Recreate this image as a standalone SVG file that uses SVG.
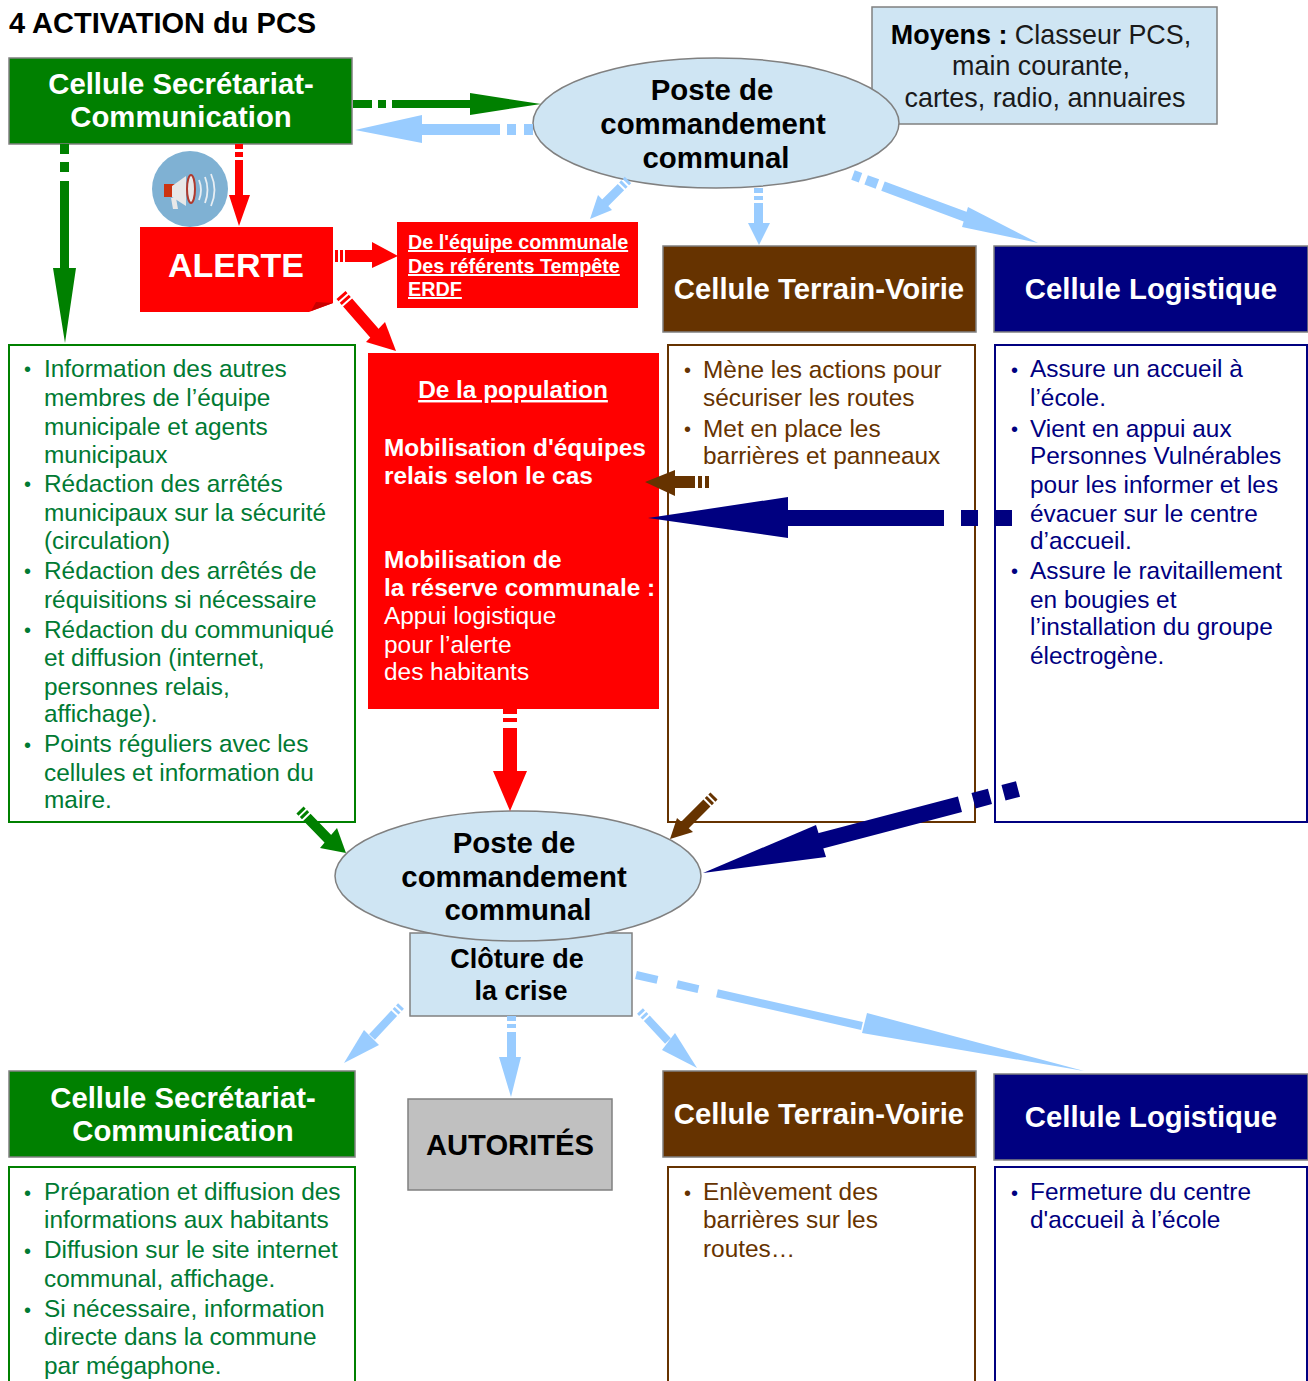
<svg xmlns="http://www.w3.org/2000/svg" width="1308" height="1381" viewBox="0 0 1308 1381">
<style>
text{font-family:"Liberation Sans",Arial,sans-serif}
.b{font-weight:bold}
.m{text-anchor:middle}
.hd{font-size:29.3px;font-weight:bold;fill:#fff;text-anchor:middle}
.pc{font-size:29.4px;font-weight:bold;fill:#000;text-anchor:middle}
.rw{font-size:24.4px;font-weight:bold;fill:#fff}
.rn{font-size:24.4px;fill:#fff}
.u{font-size:19.8px;font-weight:bold;fill:#fff;text-decoration:underline}
.g{font-size:24.4px;fill:#007a33}
.br{font-size:24.4px;fill:#663300}
.n{font-size:24.4px;fill:#000080}
.d{font-size:20px}
.lb{fill:#99ccff}.lbs{stroke:#99ccff;fill:none}
.gr{fill:#008000}.grs{stroke:#008000;fill:none}
.rd{fill:#ff0000}.rds{stroke:#ff0000;fill:none}
.bw{fill:#663300}.bws{stroke:#663300;fill:none}
.nv{fill:#000080}.nvs{stroke:#000080;fill:none}
.box{stroke:#808080;stroke-width:1.5}
</style>
<text x="9" y="33" font-size="29" class="b" fill="#000">4 ACTIVATION du PCS</text>

<g id="moyens">
<rect x="872" y="7" width="345" height="117" fill="#cfe5f3" class="box"/>
<text x="1041" y="44" font-size="26.9" class="m" fill="#1a1a1a"><tspan class="b" fill="#000">Moyens :</tspan> Classeur PCS,</text>
<text x="1041" y="75" font-size="26.9" class="m" fill="#1a1a1a">main courante,</text>
<text x="1045" y="107" font-size="26.9" class="m" fill="#1a1a1a">cartes, radio, annuaires</text>
</g>
<g id="pcc1">
<ellipse cx="716" cy="123" rx="183" ry="65" fill="#cfe5f3" class="box"/>
<text x="712" y="100" class="pc">Poste de</text>
<text x="713" y="134" class="pc">commandement</text>
<text x="716" y="168" class="pc">communal</text>
</g>
<g id="sec1">
<rect x="9" y="58" width="343" height="86" fill="#008000" class="box"/>
<text x="181" y="94" class="hd">Cellule Secrétariat-</text>
<text x="181" y="127" class="hd">Communication</text>
</g>
<g id="megaphone">
<ellipse cx="190" cy="189" rx="38" ry="38" fill="#7fb1d3"/>
<rect x="164" y="184" width="11" height="13" fill="#cc3311"/>
<path d="M172 186L186 176V206L172 197Z" fill="#e8e8e8"/>
<path d="M171 198L176 198L178 209L173 209Z" fill="#e8e8e8"/>
<ellipse cx="191" cy="189" rx="4" ry="14" fill="#e8e8e8" stroke="#b03a2e" stroke-width="2"/>
<path d="M199 180Q203 190 199 200M205 177Q210 190 205 203M211 174Q218 190 211 206" fill="none" stroke="#e8eef3" stroke-width="1.8"/>
</g>
<g id="alerte">
<path d="M140 227H333V303L309 312H140Z" fill="#ff0000"/>
<path d="M311 311L333 303L316 302Z" fill="#c80000"/>
<text x="236" y="277" font-size="34" class="b m" fill="#fff">ALERTE</text>
</g>
<g id="alerte-cibles">
<rect x="397" y="222" width="241" height="86" fill="#ff0000"/>
<text x="408" y="249" class="u">De l'équipe communale</text>
<text x="408" y="273" class="u">Des référents Tempête</text>
<text x="408" y="296" class="u">ERDF</text>
</g>
<g id="terrain1">
<rect x="663" y="246" width="313" height="86" fill="#663300" class="box"/>
<text x="819" y="299" class="hd">Cellule Terrain-Voirie</text>
</g>
<g id="logistique1">
<rect x="994" y="246" width="314" height="86" fill="#000080" class="box"/>
<text x="1151" y="299" class="hd">Cellule Logistique</text>
</g>
<g id="sec1-list">
<rect x="9" y="345" width="346" height="477" fill="#fff" stroke="#008000" stroke-width="2"/>
<g class="g">
<text x="24" y="376" class="d">•</text><text x="44" y="377">Information des autres</text>
<text x="44" y="406">membres de l’équipe</text>
<text x="44" y="435">municipale et agents</text>
<text x="44" y="463">municipaux</text>
<text x="24" y="491" class="d">•</text><text x="44" y="492">Rédaction des arrêtés</text>
<text x="44" y="521">municipaux sur la sécurité</text>
<text x="44" y="549">(circulation)</text>
<text x="24" y="578" class="d">•</text><text x="44" y="579">Rédaction des arrêtés de</text>
<text x="44" y="608">réquisitions si nécessaire</text>
<text x="24" y="637" class="d">•</text><text x="44" y="638">Rédaction du communiqué</text>
<text x="44" y="666">et diffusion (internet,</text>
<text x="44" y="695">personnes relais,</text>
<text x="44" y="722">affichage).</text>
<text x="24" y="752" class="d">•</text><text x="44" y="752">Points réguliers avec les</text>
<text x="44" y="781">cellules et information du</text>
<text x="44" y="808">maire.</text>
</g>
</g>
<g id="population">
<rect x="368" y="353" width="291" height="356" fill="#ff0000"/>
<text x="513" y="398" font-size="24.4" class="b m" fill="#fff" text-decoration="underline">De la population</text>
<text x="384" y="456" class="rw">Mobilisation d'équipes</text>
<text x="384" y="484" class="rw">relais selon le cas</text>
<text x="384" y="568" class="rw">Mobilisation de</text>
<text x="384" y="596" class="rw">la réserve communale :</text>
<text x="384" y="624" class="rn">Appui logistique</text>
<text x="384" y="653" class="rn">pour l’alerte</text>
<text x="384" y="680" class="rn">des habitants</text>
</g>
<g id="terrain1-list">
<rect x="668" y="345" width="307" height="477" fill="#fff" stroke="#663300" stroke-width="2"/>
<g class="br">
<text x="684" y="377" class="d">•</text><text x="703" y="378">Mène les actions pour</text>
<text x="703" y="406">sécuriser les routes</text>
<text x="684" y="436" class="d">•</text><text x="703" y="437">Met en place les</text>
<text x="703" y="464">barrières et panneaux</text>
</g>
</g>
<g id="logistique1-list">
<rect x="995" y="345" width="312" height="477" fill="#fff" stroke="#000080" stroke-width="2"/>
<g class="n">
<text x="1011" y="377" class="d">•</text><text x="1030" y="377">Assure un accueil à</text>
<text x="1030" y="406">l’école.</text>
<text x="1011" y="436" class="d">•</text><text x="1030" y="437">Vient en appui aux</text>
<text x="1030" y="464">Personnes Vulnérables</text>
<text x="1030" y="493">pour les informer et les</text>
<text x="1030" y="522">évacuer sur le centre</text>
<text x="1030" y="549">d’accueil.</text>
<text x="1011" y="578" class="d">•</text><text x="1030" y="579">Assure le ravitaillement</text>
<text x="1030" y="608">en bougies et</text>
<text x="1030" y="635">l’installation du groupe</text>
<text x="1030" y="664">électrogène.</text>
</g>
</g>
<g id="pcc2">
<rect x="410" y="933" width="222" height="83" fill="#cfe5f3" class="box"/>
<text x="517" y="968" font-size="27" class="b m" fill="#000">Clôture de</text>
<text x="521" y="1000" font-size="27" class="b m" fill="#000">la crise</text>
<ellipse cx="518" cy="876" rx="183" ry="65" fill="#cfe5f3" class="box"/>
<text x="514" y="853" class="pc">Poste de</text>
<text x="514" y="887" class="pc">commandement</text>
<text x="518" y="920" class="pc">communal</text>
</g>
<g id="sec2">
<rect x="9" y="1071" width="346" height="86" fill="#008000" class="box"/>
<text x="183" y="1108" class="hd">Cellule Secrétariat-</text>
<text x="183" y="1141" class="hd">Communication</text>
</g>
<g id="autorites">
<rect x="408" y="1099" width="204" height="91" fill="#c0c0c0" class="box"/>
<text x="510" y="1155" font-size="29.2" class="b m" fill="#000">AUTORITÉS</text>
</g>
<g id="terrain2">
<rect x="663" y="1071" width="313" height="86" fill="#663300" class="box"/>
<text x="819" y="1124" class="hd">Cellule Terrain-Voirie</text>
</g>
<g id="logistique2">
<rect x="994" y="1074" width="314" height="86" fill="#000080" class="box"/>
<text x="1151" y="1127" class="hd">Cellule Logistique</text>
</g>
<g id="sec2-list">
<rect x="9" y="1167" width="346" height="230" fill="#fff" stroke="#008000" stroke-width="2"/>
<g class="g">
<text x="24" y="1200" class="d">•</text><text x="44" y="1200">Préparation et diffusion des</text>
<text x="44" y="1228">informations aux habitants</text>
<text x="24" y="1258" class="d">•</text><text x="44" y="1258">Diffusion sur le site internet</text>
<text x="44" y="1287">communal, affichage.</text>
<text x="24" y="1317" class="d">•</text><text x="44" y="1317">Si nécessaire, information</text>
<text x="44" y="1345">directe dans la commune</text>
<text x="44" y="1374">par mégaphone.</text>
</g>
</g>
<g id="terrain2-list">
<rect x="668" y="1167" width="307" height="230" fill="#fff" stroke="#663300" stroke-width="2"/>
<g class="br">
<text x="684" y="1200" class="d">•</text><text x="703" y="1200">Enlèvement des</text>
<text x="703" y="1228">barrières sur les</text>
<text x="703" y="1257">routes…</text>
</g>
</g>
<g id="logistique2-list">
<rect x="995" y="1167" width="312" height="230" fill="#fff" stroke="#000080" stroke-width="2"/>
<g class="n">
<text x="1011" y="1200" class="d">•</text><text x="1030" y="1200">Fermeture du centre</text>
<text x="1030" y="1228">d'accueil à l’école</text>
</g>
</g>

<g id="connectors">
<path class="gr" d="M353 100H372V108H353ZM378 100H386V108H378ZM392 100H470V93L541 104L470 115V108H392Z"/>
<path class="lb" d="M533 124H524V135H533ZM516 124H507V135H516ZM500 124H422V115L355 130L422 143V135H500Z"/>
<path class="gr" d="M60 144H69V154H60ZM60 162H69V172H60ZM60 181H69V268H76L65 343L53 268H60Z"/>
<path class="rd" d="M235 144H243V149H235ZM235 152H243V157H235ZM235 160H243V195H250L239 226L229 195H235Z"/>
<path class="rd" d="M335 250H338V262H335ZM340 250H343V262H340ZM345 250H372V242L398 256L372 268V262H345Z"/>
<g><path class="rds" stroke-width="12" stroke-dasharray="3 2 3 2 100" d="M341 295L376 335"/><path class="rd" d="M385 322L396 351L366 342Z"/></g>
<g><path class="lbs" stroke-width="9" stroke-dasharray="3 2 3 2 100" d="M628 180L604 204"/><path class="lb" d="M598 195L612 210L590 219Z"/></g>
<path class="lb" d="M754 188H763V193H754ZM754 196H763V200H754ZM754 203H763V223H770L759 245L748 223H754Z"/>
<g><path class="lbs" stroke-width="10" stroke-dasharray="8 6 12 6 300" d="M853 175L966 217"/><path class="lb" d="M968 207L1038 243L962 227Z"/></g>
<path class="bw" d="M709 476V488H705V476ZM702 476V488H698V476ZM695 476V488H675V496L645 482L675 470V476Z"/>
<path class="nv" d="M1012 510V526H995V510ZM978 510V526H961V510ZM944 510V526H788V538L648 518L788 497V510Z"/>
<path class="rd" d="M503 709H517V714H503ZM503 718H517V722H503ZM503 728H517V771H527L510 811L493 771H503Z"/>
<g><path class="grs" stroke-width="10" stroke-dasharray="3 2 3 2 100" d="M300 810L331 842"/><path class="gr" d="M337 828L346 853L320 848Z"/></g>
<g><path class="bws" stroke-width="10" stroke-dasharray="3 2 3 2 100" d="M714 796L683 827"/><path class="bw" d="M677 818L693 832L670 839Z"/></g>
<g><path class="nvs" stroke-width="16" stroke-dasharray="15 14 17 14 300" d="M1018 789L820 841"/><path class="nv" d="M816 825L826 857L703 873Z"/></g>
<g><path class="lbs" stroke-width="8" stroke-dasharray="3 2 3 2 100" d="M401 1006L372 1037"/><path class="lb" d="M364 1030L379 1045L344 1063Z"/></g>
<path class="lb" d="M507 1016H516V1021H507ZM507 1024H516V1028H507ZM507 1032H516V1057H521L511 1097L499 1057H507Z"/>
<g><path class="lbs" stroke-width="8" stroke-dasharray="3 2 3 2 100" d="M640 1011L668 1041"/><path class="lb" d="M675 1033L697 1068L662 1050Z"/></g>
<g><path class="lbs" stroke-width="8" stroke-dasharray="22 20 22 19 300" d="M636 975L862 1026"/><path class="lb" d="M867 1013L1084 1071L862 1033Z"/></g>
</g>
</svg>
